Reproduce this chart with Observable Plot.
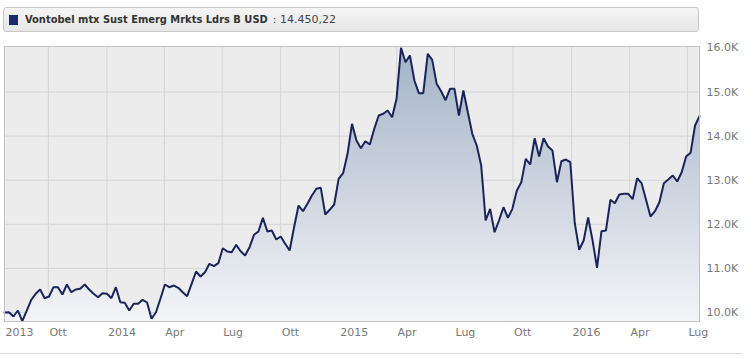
<!DOCTYPE html>
<html>
<head>
<meta charset="utf-8">
<script src="https://cdn.jsdelivr.net/npm/d3@7"></script>
<script src="https://cdn.jsdelivr.net/npm/@observablehq/plot@0.6"></script>
<style>
  html, body { margin: 0; padding: 0; background: #fff; }
  body { font-family: "DejaVu Sans", Verdana, sans-serif; width: 755px; height: 359px; overflow: hidden; }
  #hdr {
    box-sizing: border-box; margin: 7px 0 8px 3px; width: 696px; height: 25px;
    border: 1px solid #c8c8c8; border-radius: 3px;
    background: linear-gradient(#f5f5f5, #e7e7e7);
    display: flex; align-items: center; font-size: 11px; color: #333;
  }
  #hdr .sw { width: 9px; height: 10px; background: #1c2a6b; margin: 0 7px 0 5px; }
  #hdr b { font-family: "DejaVu Sans Condensed", "DejaVu Sans", sans-serif; font-stretch: condensed; font-weight: bold; color: #333; }
  #hdr span.v { color: #444; margin-left: 5px; }
  #chart svg { display: block; }
</style>
</head>
<body>
<div id="hdr"><div class="sw"></div><b>Vontobel mtx Sust Emerg Mrkts Ldrs B USD</b><span class="v">: 14.450,22</span></div>
<div id="chart"></div>
<script>
const seriesName = "Vontobel mtx Sust Emerg Mrkts Ldrs B USD";

const dates = [
"2013-07-24","2013-07-31","2013-08-07","2013-08-14","2013-08-21","2013-08-28","2013-09-04","2013-09-11","2013-09-18","2013-09-25",
"2013-10-02","2013-10-09","2013-10-16","2013-10-23","2013-10-30","2013-11-06","2013-11-13","2013-11-20","2013-11-27","2013-12-04",
"2013-12-11","2013-12-18","2013-12-25",
"2014-01-01","2014-01-08","2014-01-15","2014-01-22","2014-01-29","2014-02-05","2014-02-12","2014-02-19","2014-02-26","2014-03-05",
"2014-03-12","2014-03-19","2014-03-26","2014-04-02","2014-04-09","2014-04-16","2014-04-23","2014-04-30","2014-05-07","2014-05-14",
"2014-05-21","2014-05-28","2014-06-04","2014-06-11","2014-06-18","2014-06-25","2014-07-02","2014-07-09","2014-07-16","2014-07-23",
"2014-07-30","2014-08-06","2014-08-13","2014-08-20","2014-08-27","2014-09-03","2014-09-10","2014-09-17","2014-09-24","2014-10-01",
"2014-10-08","2014-10-15","2014-10-22","2014-10-29","2014-11-05","2014-11-12","2014-11-19","2014-11-26","2014-12-03","2014-12-10",
"2014-12-17","2014-12-24","2014-12-31",
"2015-01-07","2015-01-14","2015-01-21","2015-01-28","2015-02-04","2015-02-11","2015-02-18","2015-02-25","2015-03-04","2015-03-11",
"2015-03-18","2015-03-25","2015-04-01","2015-04-08","2015-04-15","2015-04-22","2015-04-29","2015-05-06","2015-05-13","2015-05-20",
"2015-05-27","2015-06-03","2015-06-10","2015-06-17","2015-06-24","2015-07-01","2015-07-08","2015-07-15","2015-07-22","2015-07-29",
"2015-08-05","2015-08-12","2015-08-19","2015-08-26","2015-09-02","2015-09-09","2015-09-16","2015-09-23","2015-09-30","2015-10-07",
"2015-10-14","2015-10-21","2015-10-28","2015-11-04","2015-11-11","2015-11-18","2015-11-25","2015-12-02","2015-12-09","2015-12-16",
"2015-12-23","2015-12-30",
"2016-01-06","2016-01-13","2016-01-20","2016-01-27","2016-02-03","2016-02-10","2016-02-17","2016-02-24","2016-03-02","2016-03-09",
"2016-03-16","2016-03-23","2016-03-30","2016-04-06","2016-04-13","2016-04-20","2016-04-27","2016-05-04","2016-05-11","2016-05-18",
"2016-05-25","2016-06-01","2016-06-08","2016-06-15","2016-06-22","2016-06-29","2016-07-06","2016-07-13","2016-07-20"
];

const values = [
10000,10007,9909,10045,9803,10045,10288,10424,10522,10324,
10363,10574,10574,10408,10635,10460,10522,10537,10635,10522,
10424,10347,10438,10424,10324,10574,10234,10220,10045,10197,
10197,10288,10227,9857,10007,10311,10635,10574,10612,10560,
10460,10370,10651,10930,10816,10914,11104,11050,11118,11458,
11383,11367,11535,11390,11293,11481,11762,11837,12147,11837,
11859,11655,11723,11558,11406,11934,12426,12297,12465,12653,
12805,12828,12222,12329,12449,13032,13159,13599,14279,13900,
13726,13884,13810,14166,14467,14506,14580,14429,14846,16002,
15676,15828,15261,14973,14973,15866,15730,15186,15018,14814,
15073,15073,14467,15034,14542,14052,13787,13333,12086,12351,
11821,12086,12388,12147,12351,12766,12955,13485,13356,13952,
13537,13952,13764,13673,12955,13431,13469,13408,12025,11422,
11633,12154,11633,11014,11844,11859,12556,12478,12676,12692,
12692,12569,13045,12932,12556,12177,12297,12501,12932,13016,
13107,12971,13181,13537,13621,14240,14450.22
];

const yTicks = [10000, 11000, 12000, 13000, 14000, 15000, 16000];
const xGridDates = ["2013-10-01","2014-01-01","2014-04-01","2014-07-01","2014-10-01","2015-01-01","2015-04-01","2015-07-01","2015-10-01","2016-01-01","2016-04-01","2016-07-01"];
const xLabelDates = ["2013-07-24","2013-10-01","2014-01-01","2014-04-01","2014-07-01","2014-10-01","2015-01-01","2015-04-01","2015-07-01","2015-10-01","2016-01-01","2016-04-01","2016-07-01"];
const xLabelTexts = ["2013","Ott","2014","Apr","Lug","Ott","2015","Apr","Lug","Ott","2016","Apr","Lug"];

const data = dates.map((d, i) => ({date: new Date(d), value: values[i]}));
const xLabels = xLabelDates.map((d, i) => ({date: new Date(d), text: xLabelTexts[i]}));
const xGrid = xGridDates.map(d => new Date(d));

const ns = "http://www.w3.org/2000/svg";
const gradientDefs = (index, scales, values, dims) => {
  const g = document.createElementNS(ns, "g");
  g.innerHTML = `<defs><linearGradient id="areaGrad" gradientUnits="userSpaceOnUse" x1="0" x2="0" y1="${dims.marginTop}" y2="${dims.height - dims.marginBottom}">
    <stop offset="0" stop-color="#a3b2c7"/><stop offset="1" stop-color="#f3f4f7"/></linearGradient></defs>`;
  return g;
};
const bottomRule = (index, scales, values, dims) => {
  const l = document.createElementNS(ns, "line");
  l.setAttribute("x1", 0); l.setAttribute("x2", 742);
  l.setAttribute("y1", dims.height - 5.5); l.setAttribute("y2", dims.height - 5.5);
  l.setAttribute("stroke", "#dcdcdc");
  return l;
};

const chart = Plot.plot({
  width: 755,
  height: 319,
  marginTop: 6,
  marginBottom: 38,
  marginLeft: 4,
  marginRight: 56,
  style: {fontFamily: "'DejaVu Sans', Verdana, sans-serif", fontSize: "11px", color: "#777", background: "#fff"},
  x: {type: "utc", domain: [data[0].date, data[data.length - 1].date], axis: null},
  y: {domain: [9796, 16032], axis: null},
  marks: [
    gradientDefs,
    Plot.frame({fill: "#ececec", stroke: null}),
    Plot.ruleY(yTicks.slice(0, -1), {stroke: "#d5d5d5", strokeWidth: 1}),
    Plot.ruleX(xGrid, {stroke: "#d5d5d5", strokeWidth: 1}),
    Plot.areaY(data, {x: "date", y: "value", fill: "url(#areaGrad)", clip: true, curve: "linear"}),
    Plot.line(data, {x: "date", y: "value", stroke: "#1b2459", strokeWidth: 2, strokeLinejoin: "miter", curve: "linear"}),
    Plot.frame({stroke: "#c2c2c2"}),
    Plot.axisY(yTicks, {anchor: "right", tickSize: 0, tickPadding: 7, tickFormat: d => (d / 1000).toFixed(1) + "K", label: null, fill: "#777"}),
    Plot.text(xLabels, {x: "date", text: "text", frameAnchor: "bottom", dy: 14, dx: 1, textAnchor: "start", fill: "#777"}),
    bottomRule
  ]
});
document.getElementById("chart").appendChild(chart);
</script>
</body>
</html>
